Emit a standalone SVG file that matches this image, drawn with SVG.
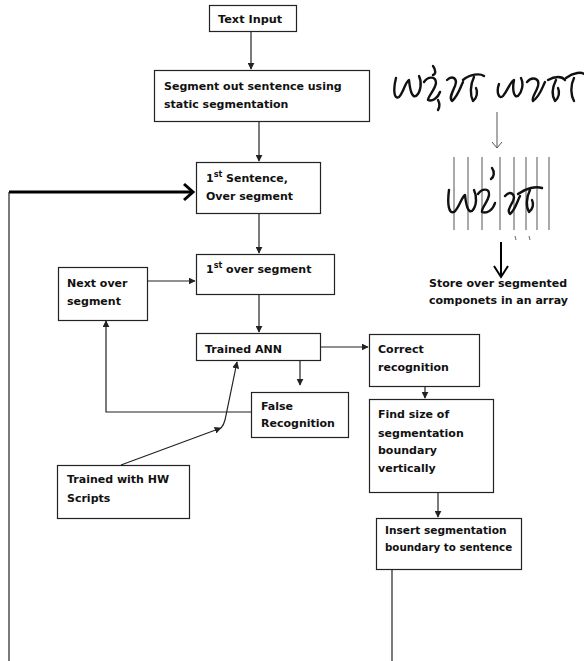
<svg xmlns="http://www.w3.org/2000/svg" width="584" height="661" viewBox="0 0 584 661">
<style>
.box{fill:#fff;stroke:#222;stroke-width:1.2}
.t{font-family:"DejaVu Sans",sans-serif;font-size:11px;font-weight:bold;fill:#111}
.c{fill:none;stroke:#222;stroke-width:1.2}
.hw{fill:none;stroke:#111;stroke-width:2.4;stroke-linecap:round;stroke-linejoin:round}
.sl{stroke:#555;stroke-width:1}
.sup{font-size:8px}
</style>
<defs>
<marker id="a" viewBox="0 0 10 10" refX="9" refY="5" markerWidth="7" markerHeight="7" markerUnits="userSpaceOnUse" orient="auto"><path d="M0,0 L10,5 L0,10 z" fill="#222"/></marker>
<marker id="g" viewBox="0 0 12 12" refX="6" refY="11" markerWidth="12" markerHeight="12" markerUnits="userSpaceOnUse" orient="0"><path d="M1,5 L6,11 L11,5" fill="none" stroke="#555" stroke-width="1"/></marker>
</defs>
<g id="connectors">
<line class="c" x1="251" y1="32" x2="251" y2="69" marker-end="url(#a)"/>
<line class="c" x1="259" y1="121" x2="259" y2="161" marker-end="url(#a)"/>
<line x1="9" y1="192" x2="192" y2="192" stroke="#000" stroke-width="3"/>
<path d="M184,184 L193,192 L184,200" fill="none" stroke="#000" stroke-width="3"/>
<line class="c" x1="9" y1="192" x2="9" y2="661"/>
<line class="c" x1="259" y1="214" x2="259" y2="253" marker-end="url(#a)"/>
<line class="c" x1="147" y1="281" x2="195" y2="281" marker-end="url(#a)"/>
<line class="c" x1="259" y1="294" x2="259" y2="332" marker-end="url(#a)"/>
<line class="c" x1="321" y1="347" x2="368" y2="347" marker-end="url(#a)"/>
<line class="c" x1="300" y1="360" x2="300" y2="385" marker-end="url(#a)"/>
<path class="c" d="M251,412 L106,412 L106,321" marker-end="url(#a)"/>
<line class="c" x1="121" y1="465" x2="221" y2="428" marker-end="url(#a)"/>
<path class="c" d="M221,428 C223,426 224,424 225,420 L237,362" marker-end="url(#a)"/>
<line class="c" x1="425" y1="386" x2="425" y2="398" marker-end="url(#a)"/>
<line class="c" x1="438" y1="492" x2="438" y2="517" marker-end="url(#a)"/>
<line class="c" x1="392" y1="569" x2="392" y2="661"/>
</g>
<g id="n-input"><rect class="box" x="209.5" y="5.5" width="87" height="26"/><text class="t" x="218" y="23" style="font-size:11.3px">Text Input</text></g>
<g id="n-segment"><rect class="box" x="154.5" y="70.5" width="215" height="51"/><text class="t" x="164" y="90">Segment out sentence using</text><text class="t" x="164" y="108">static segmentation</text></g>
<g id="n-sentence"><rect class="box" x="196.5" y="162.5" width="124" height="51"/><text class="t" x="206" y="182">1<tspan class="sup" dy="-5">st</tspan><tspan dy="5"> Sentence,</tspan></text><text class="t" x="206" y="200">Over segment</text></g>
<g id="n-first"><rect class="box" x="196.5" y="254.5" width="138" height="40"/><text class="t" x="206" y="273">1<tspan class="sup" dy="-5">st</tspan><tspan dy="5"> over segment</tspan></text></g>
<g id="n-next"><rect class="box" x="58.5" y="267.5" width="89" height="53"/><text class="t" x="67" y="287">Next over</text><text class="t" x="67" y="305">segment</text></g>
<g id="n-ann"><rect class="box" x="196.5" y="333.5" width="124" height="27"/><text class="t" x="205" y="353">Trained ANN</text></g>
<g id="n-false"><rect class="box" x="251.5" y="392.5" width="97" height="45"/><text class="t" x="261" y="410">False</text><text class="t" x="261" y="427">Recognition</text></g>
<g id="n-hw"><rect class="box" x="57.5" y="465.5" width="132" height="53"/><text class="t" x="67" y="483">Trained with HW</text><text class="t" x="67" y="502">Scripts</text></g>
<g id="n-correct"><rect class="box" x="369.5" y="334.5" width="110" height="52"/><text class="t" x="378" y="353">Correct</text><text class="t" x="378" y="371">recognition</text></g>
<g id="n-find"><rect class="box" x="369.5" y="399.5" width="124" height="93"/><text class="t" x="378" y="418">Find size of</text><text class="t" x="378" y="437">segmentation</text><text class="t" x="378" y="454">boundary</text><text class="t" x="378" y="472">vertically</text></g>
<g id="n-insert"><rect class="box" x="376.5" y="518.5" width="145" height="51"/><text class="t" x="385" y="534" style="font-size:10.6px">Insert segmentation</text><text class="t" x="385" y="551" style="font-size:10.3px">boundary to sentence</text></g>
<g id="illustration">
<path class="hw" d="M396,78 C393,90 394,100 399,97 C404,92 405,82 409,80 C410,90 412,98 416,96 C421,92 422,82 419,76"/>
<path class="hw" d="M424,82 C428,76 436,76 436,83 C435,90 428,96 428,100 C432,102 438,98 440,92 M433,66 C436,70 436,74 433,75 M438,100 C440,104 440,107 438,110"/>
<path class="hw" d="M447,80 C452,75 458,78 455,86 C452,93 449,98 452,101 C458,96 460,88 463,82"/>
<path class="hw" d="M463,80 C470,74 480,73 484,76 M474,77 C470,85 470,95 473,101 C477,98 478,92 476,88"/>
<path class="hw" d="M499,84 C496,92 499,100 503,96 C508,90 510,82 514,80 C512,90 514,98 518,96 C522,92 524,84 521,78"/>
<path class="hw" d="M527,82 C532,76 540,78 538,86 C536,93 531,98 533,101 C540,96 542,88 545,82"/>
<path class="hw" d="M548,80 C555,76 562,76 565,80 M556,80 C552,88 552,96 555,101 C559,98 560,92 558,88"/>
<path class="hw" d="M566,78 C574,72 582,72 584,74 M574,78 C570,86 571,96 574,101"/>
<line x1="497" y1="112" x2="497" y2="148" class="sl" marker-end="url(#g)"/>
<g class="sl">
<line x1="454" y1="157" x2="454" y2="230"/><line x1="468" y1="157" x2="468" y2="230"/><line x1="482" y1="157" x2="482" y2="230"/><line x1="500" y1="157" x2="500" y2="230"/><line x1="514" y1="157" x2="514" y2="230"/><line x1="526" y1="157" x2="526" y2="230"/><line x1="537" y1="157" x2="537" y2="230"/><line x1="549" y1="157" x2="549" y2="230"/>
</g>
<path class="hw" d="M449,190 C447,205 449,214 454,212 C459,208 461,198 465,195 C466,205 468,213 472,211 C477,206 477,196 474,190"/>
<path class="hw" d="M478,194 C482,188 490,188 489,195 C488,202 481,208 482,212 C487,214 493,210 495,203 M492,168 C495,172 494,177 491,179"/>
<path class="hw" d="M505,196 C510,190 516,194 513,201 C510,207 507,211 510,214 C515,210 517,202 520,196"/>
<path class="hw" d="M518,194 C526,188 536,186 542,188 M530,190 C526,198 526,207 529,212 C533,209 534,204 532,200"/>
<path d="M515,236 L516,240 M529,236 L530,240" stroke="#666" stroke-width="1"/>
<line x1="501" y1="242" x2="501" y2="276" stroke="#000" stroke-width="2"/>
<path d="M494,266 L501,277 L508,266" fill="none" stroke="#000" stroke-width="2"/>
<text class="t" x="429" y="287">Store over segmented</text>
<text class="t" x="429" y="304">componets in an array</text>
</g>
</svg>
